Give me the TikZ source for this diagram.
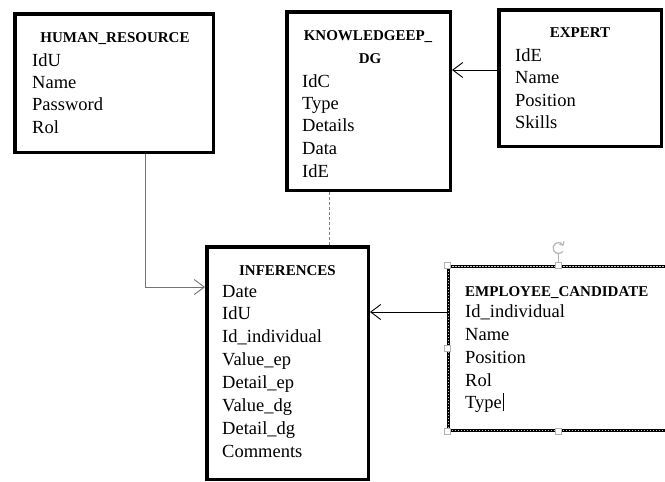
\documentclass[tikz,border=0pt]{standalone}
\usepackage{fontspec}
\setmainfont{Liberation Serif}
\usetikzlibrary{arrows.meta}
\begin{document}
\begin{tikzpicture}[x=1pt,y=-1pt,
  entity/.style={draw=black, line width=3.5pt, fill=white, inner sep=0pt},
  selbox/.style={entity, line width=3pt, postaction={draw, line width=0.9pt, gray!45, dash pattern=on 1.5pt off 1.5pt}},
  ttl/.style={font=\fontsize{15}{17}\selectfont\bfseries, inner sep=0pt, anchor=base},
  ttlw/.style={font=\fontsize{15}{17}\selectfont\bfseries, inner sep=0pt, anchor=base west},
  fld/.style={font=\fontsize{18.5}{22}\selectfont, inner sep=0pt, anchor=base west},
  conn/.style={line width=0.9pt, -{Straight Barb[length=10pt,width=15pt,line width=0.9pt]}},
  handle/.style={draw=gray!60, fill=white, line width=0.8pt, minimum size=5.5pt, inner sep=0pt},
]
\useasboundingbox (0,0) rectangle (665,482);

% entity boxes
\node[entity, minimum width=198.5pt, minimum height=138.5pt] (hr) at (114,83) {};
\node[entity, minimum width=163.5pt, minimum height=178.5pt] (kn) at (368.5,101) {};
\node[entity, minimum width=162.5pt, minimum height=136.5pt] (ex) at (580,78) {};
\node[entity, minimum width=161.5pt, minimum height=232.5pt] (inf) at (287.5,363) {};
\node[selbox, minimum width=270pt, minimum height=164pt] (emp) at (583.5,348.5) {};

% HUMAN_RESOURCE
\node[ttl] (hrt) at (115,42) {HUMAN\_RESOURCE};
\node[fld] (hr1) at (32,66) {IdU};
\node[fld] (hr2) at (32,88) {Name};
\node[fld] (hr3) at (32,110) {Password};
\node[fld] (hr4) at (32,133) {Rol};

% KNOWLEDGEEP_DG
\node[ttl] (knt1) at (368,40) {KNOWLEDGEEP\_};
\node[ttl] (knt2) at (370,63) {DG};
\node[fld] (kn1) at (302,87) {IdC};
\node[fld] (kn2) at (302,109) {Type};
\node[fld] (kn3) at (302,131) {Details};
\node[fld] (kn4) at (302,154) {Data};
\node[fld] (kn5) at (302,177) {IdE};

% EXPERT
\node[ttl] (ext) at (580,37) {EXPERT};
\node[fld] (ex1) at (515,61) {IdE};
\node[fld] (ex2) at (515,83) {Name};
\node[fld] (ex3) at (515,106) {Position};
\node[fld] (ex4) at (515,128) {Skills};

% INFERENCES
\node[ttl] (inft) at (287.5,275) {INFERENCES};
\node[fld] (in1) at (222,297) {Date};
\node[fld] (in2) at (222,319) {IdU};
\node[fld] (in3) at (222,342) {Id\_individual};
\node[fld] (in4) at (222,365) {Value\_ep};
\node[fld] (in5) at (222,388) {Detail\_ep};
\node[fld] (in6) at (222,411) {Value\_dg};
\node[fld] (in7) at (222,434) {Detail\_dg};
\node[fld] (in8) at (222,457) {Comments};

% EMPLOYEE_CANDIDATE
\node[ttlw] (empt) at (465,296) {EMPLOYEE\_CANDIDATE};
\node[fld] (em1) at (465,317) {Id\_individual};
\node[fld] (em2) at (465,340) {Name};
\node[fld] (em3) at (465,363) {Position};
\node[fld] (em4) at (465,386) {Rol};
\node[fld] (em5) at (465,408) {Type};
\draw[line width=0.8pt] ([shift={(1,3)}]em5.base east) -- ([shift={(1,-15)}]em5.base east);

% selection handles
\node[handle] (h1) at (447.5,265.5) {};
\node[handle] (h2) at (558.5,265.5) {};
\node[handle] (h3) at (447.5,348.5) {};
\node[handle] (h4) at (447.5,431.5) {};
\node[handle] (h5) at (558.5,431.5) {};
\coordinate (rot) at (558.5,248);
\draw[gray!60, line width=0.8pt] (h2.north) -- (558.5,253.5);
\draw[gray!55, line width=1.3pt] ([shift={(4.8,-2.8)}]rot) arc[start angle=30, end angle=320, radius=5.5pt];
\draw[gray!55, line width=1pt] ([shift={(4.8,-2.8)}]rot) -- ([shift={(5.5,-7)}]rot);
\draw[gray!55, line width=1pt] ([shift={(4.8,-2.8)}]rot) -- ([shift={(0.8,-3.5)}]rot);

% helper coordinates
\coordinate (yex) at (0,70);
\coordinate (xhr) at (145,0);
\coordinate (yhr) at (0,287);
\coordinate (yemp) at (0,312);
\coordinate (xkn) at (329,0);

% connectors
\draw[conn] (ex.west |- yex) -- (kn.east |- yex);
\draw[conn, gray!90!black] (hr.south -| xhr) |- (inf.west |- yhr);
\draw[conn] (emp.west |- yemp) -- (inf.east |- yemp);
\draw[gray, line width=0.9pt, dash pattern=on 3pt off 2pt] (kn.south -| xkn) -- (inf.north -| xkn);
\end{tikzpicture}
\end{document}
